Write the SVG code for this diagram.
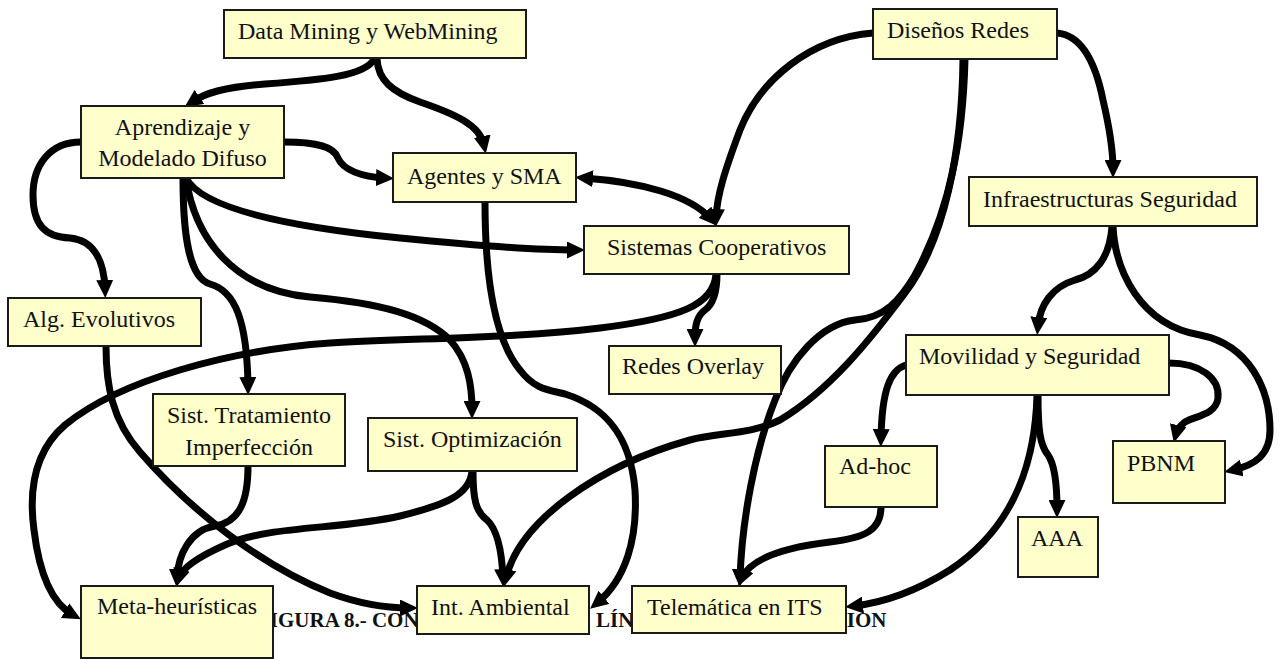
<svg xmlns="http://www.w3.org/2000/svg" width="1281" height="659" viewBox="0 0 1281 659">
  <style>
    .box { fill: #ffffcc; stroke: #1a1a1a; stroke-width: 2; }
    .lbl { font-family: "Liberation Serif", "Times New Roman", serif; font-size: 24px; fill: #111; }
    .mid { text-anchor: middle; }
    .cap { font-family: "Liberation Serif", "Times New Roman", serif; font-size: 21px; font-weight: bold; fill: #111; }
    .edge { fill: none; stroke: #000; stroke-width: 7; marker-end: url(#ah); }
  </style>
  <defs>
    <marker id="ah" viewBox="0 0 18 17" refX="9" refY="8.5" markerWidth="18" markerHeight="17" markerUnits="userSpaceOnUse" orient="auto-start-reverse">
      <path d="M0,0 L18,8.5 L0,17 z" fill="#000"/>
    </marker>
  </defs>

  <rect width="1281" height="659" fill="#fff"/>

  <!-- figure caption, partly covered by the bottom row of boxes -->
  <text class="cap" x="257" y="627">FIGURA 8.- CONEXIONES ENTRE LÍNEAS DE INVESTIGACION</text>

  <g id="connectors">
    <!-- Data Mining -> Aprendizaje -->
    <path class="edge" d="M374,59 C366,76 320,80 265,84 C225,87 205,93 192,102"/>
    <!-- Data Mining -> Agentes -->
    <path class="edge" d="M377,59 C378,80 392,92 420,102 C455,114 480,125 484,145"/>
    <!-- Aprendizaje -> Agentes -->
    <path class="edge" d="M284,142 C318,142 334,147 338,158 C343,170 362,177 385,178"/>
    <!-- Aprendizaje -> Sistemas Cooperativos -->
    <path class="edge" d="M186,178 C200,205 270,225 400,238 C500,248 540,250 576,250"/>
    <!-- Aprendizaje -> Alg. Evolutivos -->
    <path class="edge" d="M81,142 C50,142 33,165 33,195 C33,225 45,237 70,238 C92,240 104,258 105,289"/>
    <!-- Aprendizaje -> Sist. Tratamiento -->
    <path class="edge" d="M183,178 C183,240 190,278 210,284 C235,291 247,320 248,386"/>
    <!-- Aprendizaje -> Sist. Optimizacion -->
    <path class="edge" d="M186,178 C195,240 235,290 310,297 C380,303 425,315 450,340 C468,360 472,385 472,410"/>
    <!-- Sistemas Cooperativos -> Redes Overlay -->
    <path class="edge" d="M717,274 C717,295 712,305 705,310 C697,316 695,325 695,338"/>
    <!-- Sistemas Cooperativos -> Meta-heuristicas -->
    <path class="edge" d="M716,274 C714,305 680,318 600,328 C520,338 420,338 330,343 C230,350 120,380 65,425 C30,455 30,500 34,530 C40,580 55,605 73,615"/>
    <!-- Alg. Evolutivos -> Int. Ambiental -->
    <path class="edge" d="M106,346 C106,385 112,420 140,452 C190,510 260,565 330,593 C360,604 385,608 409,608"/>
    <!-- Sist. Tratamiento -> Meta-heuristicas -->
    <path class="edge" d="M248,466 C248,500 240,522 215,526 C190,530 178,555 177,578"/>
    <!-- Sist. Optimizacion -> Meta-heuristicas -->
    <path class="edge" d="M472,471 C470,495 445,505 400,516 C340,530 270,525 225,545 C198,557 182,568 179,578"/>
    <!-- Sist. Optimizacion -> Int. Ambiental -->
    <path class="edge" d="M473,471 C473,500 476,512 487,520 C498,530 502,555 503,578"/>
    <!-- Agentes -> Int. Ambiental -->
    <path class="edge" d="M485,202 C485,280 495,340 520,370 C535,390 550,390 565,394 C600,405 630,430 635,490 C638,540 625,580 597,603"/>
    <!-- Agentes <-> Sistemas Cooperativos -->
    <path class="edge" style="marker-start: url(#ah)" d="M584,178 C640,182 690,195 711,219"/>
    <!-- Disenos Redes -> Sistemas Cooperativos -->
    <path class="edge" d="M873,33 C810,38 760,80 740,130 C725,170 717,195 716,218"/>
    <!-- Disenos Redes -> Telematica -->
    <path class="edge" d="M965,59 C963,140 950,210 915,275 C900,300 885,318 855,320 C820,324 790,360 775,400 C755,450 742,520 740,578"/>
    <!-- Disenos Redes -> Int. Ambiental -->
    <path class="edge" d="M963,59 C962,150 945,240 905,293 C870,340 830,390 780,420 C750,435 720,432 690,440 C600,465 520,520 506,578"/>
    <!-- Disenos Redes -> Infraestructuras -->
    <path class="edge" d="M1057,33 C1080,35 1095,60 1103,100 C1110,130 1113,150 1113,169"/>
    <!-- Infraestructuras -> Movilidad -->
    <path class="edge" d="M1112,226 C1110,258 1095,275 1075,280 C1052,287 1040,305 1038,326"/>
    <!-- Infraestructuras -> PBNM -->
    <path class="edge" d="M1113,226 C1115,270 1140,325 1200,335 C1250,345 1270,390 1270,430 C1270,455 1255,465 1233,470"/>
    <!-- Movilidad -> PBNM -->
    <path class="edge" d="M1169,363 C1200,363 1220,378 1218,398 C1216,415 1195,416 1185,422 C1180,426 1177,430 1176,434"/>
    <!-- Movilidad -> Ad-hoc -->
    <path class="edge" d="M906,365 C890,370 882,390 881,438"/>
    <!-- Movilidad -> AAA -->
    <path class="edge" d="M1038,395 C1038,430 1040,445 1048,455 C1055,465 1057,485 1057,509"/>
    <!-- Movilidad -> Telematica -->
    <path class="edge" d="M1037,395 C1035,470 1010,530 950,570 C910,595 880,603 854,606"/>
    <!-- Ad-hoc -> Telematica -->
    <path class="edge" d="M881,507 C881,530 865,538 830,542 C780,548 750,560 742,578"/>
  </g>

  <g id="n-datamining"><rect class="box" x="224" y="10" width="302" height="48"/><text class="lbl" x="238" y="39">Data Mining y WebMining</text></g>
  <g id="n-aprendizaje"><rect class="box" x="81" y="106" width="203" height="72"/><text class="lbl mid" x="182.5" y="135">Aprendizaje y</text><text class="lbl mid" x="182.5" y="166">Modelado Difuso</text></g>
  <g id="n-agentes"><rect class="box" x="393" y="153" width="183" height="49"/><text class="lbl" x="407" y="184">Agentes y SMA</text></g>
  <g id="n-disenos"><rect class="box" x="873" y="9" width="184" height="50"/><text class="lbl" x="887" y="38">Diseños Redes</text></g>
  <g id="n-infra"><rect class="box" x="969" y="177" width="288" height="49"/><text class="lbl" x="983" y="207">Infraestructuras Seguridad</text></g>
  <g id="n-cooperativos"><rect class="box" x="584" y="226" width="265" height="48"/><text class="lbl" x="607" y="255">Sistemas Cooperativos</text></g>
  <g id="n-evolutivos"><rect class="box" x="8" y="298" width="193" height="48"/><text class="lbl" x="23" y="327">Alg. Evolutivos</text></g>
  <g id="n-overlay"><rect class="box" x="609" y="346" width="172" height="48"/><text class="lbl" x="622" y="374">Redes Overlay</text></g>
  <g id="n-movilidad"><rect class="box" x="906" y="335" width="263" height="60"/><text class="lbl" x="919" y="364">Movilidad y Seguridad</text></g>
  <g id="n-tratamiento"><rect class="box" x="153" y="394" width="192" height="72"/><text class="lbl mid" x="249" y="423">Sist. Tratamiento</text><text class="lbl mid" x="249" y="455">Imperfección</text></g>
  <g id="n-optimizacion"><rect class="box" x="368" y="418" width="209" height="53"/><text class="lbl" x="383" y="447">Sist. Optimización</text></g>
  <g id="n-adhoc"><rect class="box" x="825" y="446" width="112" height="61"/><text class="lbl" x="839" y="474">Ad-hoc</text></g>
  <g id="n-aaa"><rect class="box" x="1018" y="517" width="80" height="60"/><text class="lbl" x="1031" y="546">AAA</text></g>
  <g id="n-pbnm"><rect class="box" x="1113" y="441" width="112" height="62"/><text class="lbl" x="1127" y="471">PBNM</text></g>
  <g id="n-meta"><rect class="box" x="81" y="586" width="192" height="72"/><text class="lbl mid" x="177" y="614">Meta-heurísticas</text></g>
  <g id="n-ambiental"><rect class="box" x="417" y="586" width="172" height="48"/><text class="lbl" x="431" y="615">Int. Ambiental</text></g>
  <g id="n-telematica"><rect class="box" x="632" y="586" width="214" height="47"/><text class="lbl" x="647" y="615">Telemática en ITS</text></g>
</svg>
